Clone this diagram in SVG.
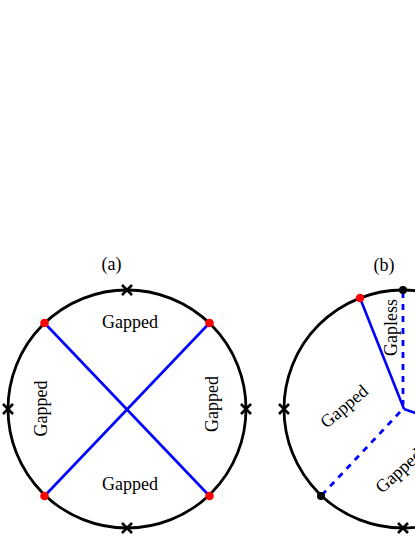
<svg xmlns="http://www.w3.org/2000/svg" width="415" height="537" viewBox="0 0 415 537">
<style>
.circ{fill:none;stroke:#000;stroke-width:2.8}
.blue{stroke:#0000ff;stroke-width:2.6;fill:none}
.dash{stroke:#0000ff;stroke-width:2.8;fill:none;stroke-dasharray:6,6}
.red{fill:#ff0000}
.blk{fill:#000}
.lbl{font-family:"Liberation Serif","Times New Roman",serif;font-size:18px;fill:#000;text-anchor:middle}
</style>
<defs>
<path id="xm" d="M-5,-5L5,5M-5,5L5,-5" stroke="#000" stroke-width="2.6" fill="none"/>
</defs>
<rect width="415" height="537" fill="#fff"/>
<g id="panel-a">
<text class="lbl" x="111.5" y="270">(a)</text>
<circle id="circle-a" class="circ" cx="127" cy="409" r="119"/>
<g id="edges-a">
<line class="blue" x1="44.5" y1="323" x2="209.5" y2="496"/>
<line class="blue" x1="209.5" y1="323" x2="44.5" y2="496"/>
</g>
<g id="marks-a">
<use href="#xm" x="127" y="290"/>
<use href="#xm" x="127" y="528"/>
<use href="#xm" x="8" y="409"/>
<use href="#xm" x="246" y="409"/>
</g>
<g id="dots-a">
<circle class="red" cx="44.5" cy="323" r="4.3"/>
<circle class="red" cx="209.5" cy="323" r="4.3"/>
<circle class="red" cx="44.5" cy="496" r="4.3"/>
<circle class="red" cx="209.5" cy="496" r="4.3"/>
</g>
<g id="labels-a">
<text class="lbl" x="130" y="328">Gapped</text>
<text class="lbl" x="130" y="490">Gapped</text>
<text class="lbl" transform="translate(46.5,408.5) rotate(-90)">Gapped</text>
<text class="lbl" transform="translate(217.5,404) rotate(-90)">Gapped</text>
</g>
</g>
<g id="panel-b">
<text class="lbl" x="384" y="271">(b)</text>
<circle id="circle-b" class="circ" cx="403" cy="409" r="119"/>
<g id="edges-b">
<line class="blue" x1="360" y1="298" x2="404" y2="409"/>
<line class="blue" x1="404" y1="409" x2="460" y2="429"/>
<line class="dash" x1="403" y1="292" x2="403" y2="405"/>
<line class="dash" x1="400" y1="412" x2="321" y2="496"/>
</g>
<g id="marks-b">
<use href="#xm" x="284" y="409"/>
<use href="#xm" x="403" y="528"/>
</g>
<g id="dots-b">
<circle class="red" cx="360" cy="298" r="4.3"/>
<circle class="blk" cx="403" cy="290" r="4"/>
<circle class="blk" cx="321" cy="496" r="4"/>
</g>
<g id="labels-b">
<text class="lbl" transform="translate(396.5,327.5) rotate(-90)">Gapless</text>
<text class="lbl" transform="translate(348,411) rotate(-40)">Gapped</text>
<text class="lbl" style="text-anchor:start" transform="translate(382,494) rotate(-42)">Gapped</text>
</g>
</g>
</svg>
